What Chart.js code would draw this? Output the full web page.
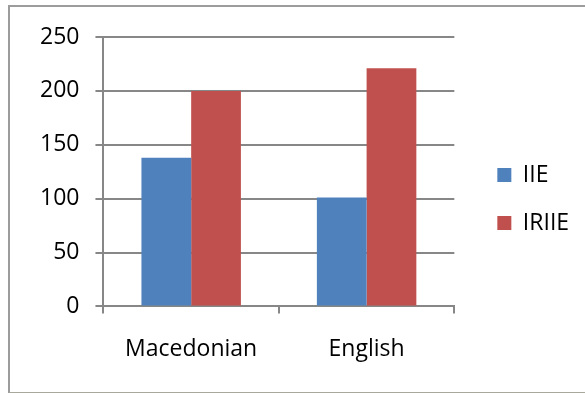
<!DOCTYPE html>
<html>
<head>
<meta charset="utf-8">
<script src="https://cdn.jsdelivr.net/npm/chart.js@4"></script>
<style>
  body { margin: 0; background: #fff; }
  #frame {
    position: absolute; left: 8px; top: 5px; width: 700px; height: 385px;
    border-left: 2px solid #9c9c9c; border-top: 2px solid #9c9c9c; border-bottom: 2px solid #a8a89c;
  }
  #chart1 { position: absolute; left: 0; top: 0; }
</style>
</head>
<body>
<div id="frame"></div>
<canvas id="chart1" width="585" height="393"></canvas>
<script>
// chart data
const categories = ['Macedonian', 'English'];
const iieValues = [138, 101];
const iriieValues = [200, 221];
const yTicks = [0, 50, 100, 150, 200, 250];

const gridGray = '#878787';

// nudge the legend up a bit after layout, and give its text room
const legendShift = {
    id: 'legendShift',
    afterLayout(chart) {
        const lg = chart.legend;
        lg.top -= 12;
        lg.bottom -= 12;
        lg.right = chart.width;
        lg.width = lg.right - lg.left;
    }
};

function createChart() {
    const ctx = document.getElementById('chart1');
    new Chart(ctx, {
        type: 'bar',
        data: {
            labels: categories,
            datasets: [{
                label: 'IIE',
                data: iieValues,
                backgroundColor: '#4F81BD',
                barPercentage: 1,
                categoryPercentage: 0.567
            }, {
                label: 'IRIIE',
                data: iriieValues,
                backgroundColor: '#C0504D',
                barPercentage: 1,
                categoryPercentage: 0.567
            }]
        },
        plugins: [legendShift],
        options: {
            responsive: false,
            animation: false,
            devicePixelRatio: 1,
            layout: {
                padding: { left: 24, top: 37, right: 23, bottom: 8 }
            },
            plugins: {
                tooltip: { enabled: false },
                legend: {
                    position: 'right',
                    labels: {
                        boxWidth: 14,
                        boxHeight: 14,
                        padding: 25,
                        color: '#000',
                        font: { family: 'Open Sans', size: 23 }
                    }
                }
            },
            scales: {
                x: {
                    grid: {
                        drawOnChartArea: false,
                        drawTicks: true,
                        tickLength: 7,
                        color: gridGray,
                        lineWidth: 2
                    },
                    border: { color: gridGray, width: 2 },
                    ticks: {
                        color: '#000',
                        padding: 22,
                        font: { family: 'Open Sans', size: 23 }
                    }
                },
                y: {
                    min: 0,
                    max: 250,
                    afterBuildTicks: (scale) => {
                        scale.ticks = yTicks.map(v => ({ value: v }));
                    },
                    grid: {
                        color: gridGray,
                        lineWidth: 2,
                        tickLength: 8
                    },
                    border: { color: gridGray, width: 2 },
                    ticks: {
                        color: '#000',
                        padding: 16,
                        font: { family: 'Open Sans', size: 23 }
                    }
                },
                spacer: {
                    type: 'linear',
                    position: 'right',
                    display: true,
                    grid: { display: false, drawTicks: false },
                    border: { display: false },
                    ticks: { display: false },
                    afterFit: (scale) => { scale.width = 18; }
                }
            }
        }
    });
}

createChart();
</script>
</body>
</html>
